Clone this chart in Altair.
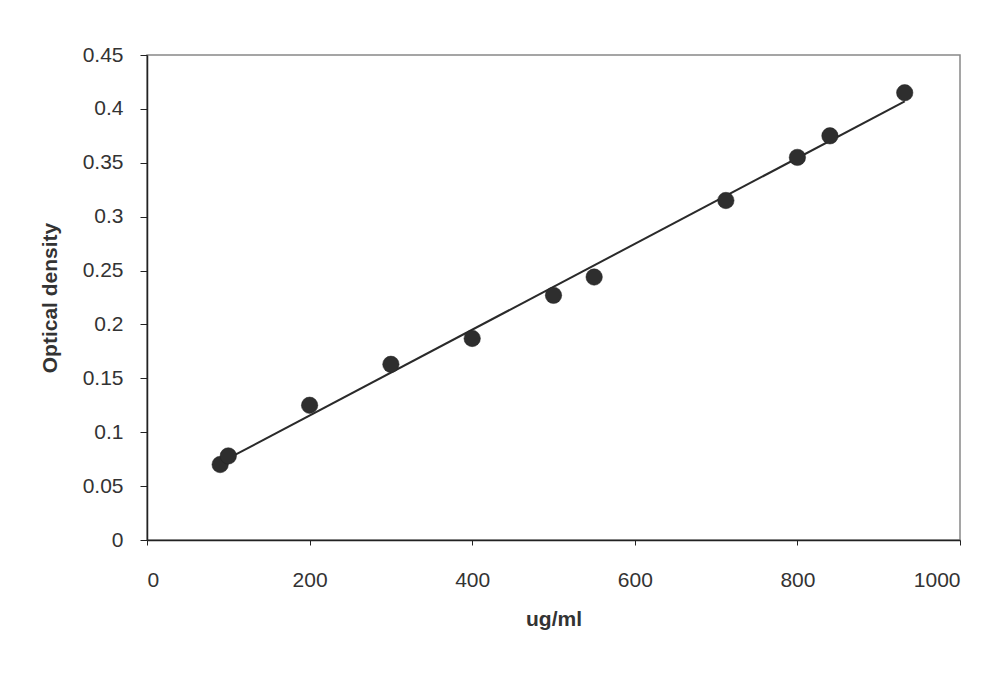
import altair as alt
import pandas as pd

conc = [90, 100, 200, 300, 400, 500, 550, 712, 800, 840, 932]
od = [0.070, 0.078, 0.125, 0.163, 0.187, 0.227, 0.244, 0.315, 0.355, 0.375, 0.415]
x_ticks = [0, 200, 400, 600, 800, 1000]
y_ticks = [0, 0.05, 0.1, 0.15, 0.2, 0.25, 0.3, 0.35, 0.4, 0.45]

df = pd.DataFrame({"conc": conc, "od": od})

font = "Liberation Sans"
txt = "#333333"
xenc = alt.X("conc:Q", title="ug/ml",
             scale=alt.Scale(domain=[0, 1000], nice=False, zero=True),
             axis=alt.Axis(values=x_ticks, format="d", grid=False, labelFontSize=21, titleFontSize=21,
                           titleFontWeight="bold", labelPadding=24, titlePadding=18,
                           tickSize=5, domainColor="#222", tickColor="#222", domainWidth=1.5,
                           labelColor=txt, titleColor=txt, labelFont=font, titleFont=font))
yenc = alt.Y("od:Q", title="Optical density",
             scale=alt.Scale(domain=[0, 0.45], nice=False),
             axis=alt.Axis(values=y_ticks, format="~g", grid=False, labelFontSize=21,
                           titleFontSize=21, titleFontWeight="bold", labelPadding=17,
                           titlePadding=22, tickSize=7, domainColor="#222", tickColor="#222",
                           domainWidth=1.5,
                           labelColor=txt, titleColor=txt, labelFont=font, titleFont=font))

base = alt.Chart(df)
pts = base.mark_circle(size=270, color="#2e2e2e", opacity=1, stroke="#222", strokeWidth=0.5).encode(x=xenc, y=yenc)
line = base.transform_regression("conc", "od", method="linear").mark_line(
    color="#2a2a2a", strokeWidth=2).encode(x=xenc, y=yenc)

chart = alt.layer(line, pts).properties(
    width=813, height=485,
    autosize=alt.AutoSizeParams(type="none"),
    padding={"left": 147, "top": 55, "right": 29, "bottom": 153},
    background="white",
).configure_view(stroke="#888", strokeWidth=1.5)

chart.save("out.html", embed_options={"renderer": "svg", "actions": False})
